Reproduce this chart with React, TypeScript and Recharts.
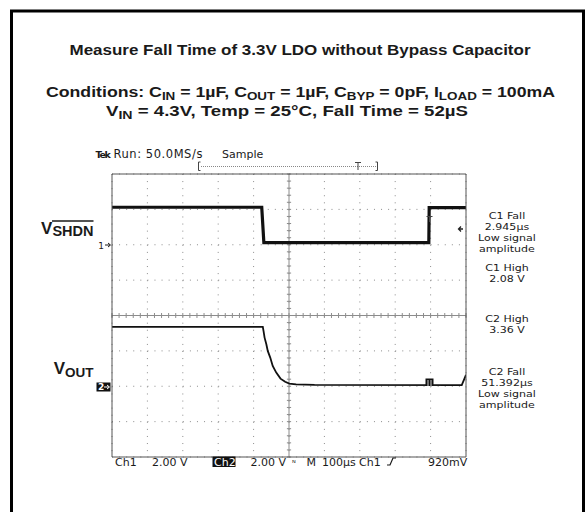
import React from 'react'
import { LineChart, Line, XAxis, YAxis, CartesianGrid, ReferenceLine } from 'recharts'

// scope capture: Ch1 = V_SHDN, Ch2 = V_OUT, both 2.00 V/div, M 100 µs/div
const ch1Time = [0, 423, 429, 895, 896, 1000]
const ch1Volts = [2.12, 2.12, 0.12, 0.12, 2.1, 2.1]

const ch2Time = [0, 426, 428, 431, 436, 440, 447, 454, 464, 476, 489, 501, 520, 572, 988, 1000]
const ch2Volts = [3.36, 3.36, 3.13, 2.75, 2.37, 2.0, 1.62, 1.15, 0.77, 0.43, 0.25, 0.15, 0.11, 0.08, 0.06, 0.65]

const timeTicks = [0, 100, 200, 300, 400, 500, 600, 700, 800, 900, 1000]
const divTicks = [0, 1, 2, 3, 4, 5, 6, 7, 8]
const minorTimeTicks = Array.from({ length: 51 }, (_, i) => i * 20)
const minorDivTicks = Array.from({ length: 41 }, (_, i) => Math.round(i * 2) / 10)

const ch1Data = ch1Time.map((t, i) => ({ t, v: ch1Volts[i] }))
const ch2Data = ch2Time.map((t, i) => ({ t, v: ch2Volts[i] }))

// measurement readouts on the right, one block per measurement
const readouts = [
  { y: 219, lines: ['C1 Fall', '2.945µs', 'Low signal', 'amplitude'] },
  { y: 271, lines: ['C1 High', '2.08 V'] },
  { y: 322, lines: ['C2 High', '3.36 V'] },
  { y: 375, lines: ['C2 Fall', '51.392µs', 'Low signal', 'amplitude'] },
]

const GRID = '#8c8c8c'
const FRAME = '#555'
const INK = '#1a1a1a'
const SCOPE_FONT = "'DejaVu Sans', sans-serif"
const HEAD_FONT = "'Liberation Sans', Arial, Helvetica, sans-serif"

function Sub({ children, size = 11, drop = 3 }: { children: string; size?: number; drop?: number }) {
  return (
    <>
      <tspan dy={drop} fontSize={size}>{children}</tspan>
      <tspan dy={-drop}>{' '}</tspan>
    </>
  )
}

export default function App() {
  return (
    <div style={{ position: 'absolute', left: 0, top: 0, width: 587, height: 512, background: '#fff', overflow: 'hidden' }}>
      <div style={{ position: 'absolute', left: 0, top: 0 }}>
        <LineChart width={587} height={512} margin={{ top: 174, right: 121, bottom: 55, left: 112 }}>
          <XAxis dataKey="t" type="number" domain={[0, 1000]} ticks={timeTicks} allowDataOverflow hide />
          <YAxis type="number" domain={[0, 8]} ticks={divTicks} allowDataOverflow hide />
          <YAxis yAxisId="c1" type="number" domain={[-12, 4]} allowDataOverflow hide />
          <YAxis yAxisId="c2" type="number" domain={[-4, 12]} allowDataOverflow hide />
          <XAxis xAxisId="bot" dataKey="t" orientation="bottom" mirror type="number" domain={[0, 1000]} ticks={minorTimeTicks}
            tick={false} tickSize={3} axisLine={{ stroke: FRAME }} tickLine={{ stroke: FRAME }} allowDataOverflow />
          <XAxis xAxisId="top" dataKey="t" orientation="top" mirror type="number" domain={[0, 1000]} ticks={minorTimeTicks}
            tick={false} tickSize={3} axisLine={{ stroke: FRAME }} tickLine={{ stroke: FRAME }} allowDataOverflow />
          <YAxis yAxisId="l" orientation="left" mirror type="number" domain={[0, 8]} ticks={minorDivTicks}
            tick={false} tickSize={3} axisLine={{ stroke: FRAME }} tickLine={{ stroke: FRAME }} allowDataOverflow />
          <YAxis yAxisId="r" orientation="right" mirror type="number" domain={[0, 8]} ticks={minorDivTicks}
            tick={false} tickSize={3} axisLine={{ stroke: FRAME }} tickLine={{ stroke: FRAME }} allowDataOverflow />
          <CartesianGrid stroke={GRID} strokeDasharray="1 6.08" />
          <ReferenceLine x={500} stroke={GRID} />
          <ReferenceLine y={4} stroke={GRID} />
          {minorTimeTicks.map((t) => (
            <ReferenceLine key={'h' + t} segment={[{ x: t, y: 3.93 }, { x: t, y: 4.07 }]} stroke={GRID} />
          ))}
          {minorDivTicks.map((d) => (
            <ReferenceLine key={'v' + d} segment={[{ x: 494, y: d }, { x: 506, y: d }]} stroke={GRID} />
          ))}
          <Line data={ch1Data} yAxisId="c1" dataKey="v" type="linear" stroke="#111" strokeWidth={3.2}
            dot={false} activeDot={false} isAnimationActive={false} />
          <Line data={ch2Data} yAxisId="c2" dataKey="v" type="linear" stroke="#111" strokeWidth={1.8}
            dot={false} activeDot={false} isAnimationActive={false} />
        </LineChart>
      </div>

      <svg width={587} height={512} style={{ position: 'absolute', left: 0, top: 0, pointerEvents: 'none' }}>
        <rect x={11.5} y={11} width={572} height={600} fill="none" stroke="#000" strokeWidth={3} />

        <g fontFamily={HEAD_FONT} fontWeight="bold" fill={INK}>
          <text x={300} y={55} textAnchor="middle" fontSize={14.5} textLength={461} lengthAdjust="spacingAndGlyphs">
            Measure Fall Time of 3.3V LDO without Bypass Capacitor
          </text>
          <text x={300.5} y={96.5} textAnchor="middle" fontSize={14.5} textLength={509} lengthAdjust="spacingAndGlyphs">
            Conditions: C<Sub>IN</Sub>= 1µF, C<Sub>OUT</Sub>= 1µF, C<Sub>BYP</Sub>= 0pF, I<Sub>LOAD</Sub>= 100mA
          </text>
          <text x={287} y={115.5} textAnchor="middle" fontSize={14.5} textLength={362} lengthAdjust="spacingAndGlyphs">
            V<Sub>IN</Sub>= 4.3V, Temp = 25°C, Fall Time = 52µS
          </text>

          <text x={93.5} y={233.5} textAnchor="end" fontSize={17}>
            V<tspan dy={2.5} fontSize={14.5}>SHDN</tspan>
          </text>
          <line x1={52} x2={93.5} y1={221} y2={221} stroke={INK} strokeWidth={1.3} />
          <text x={93.5} y={373.5} textAnchor="end" fontSize={17}>
            V<tspan dy={3.5} fontSize={13.5}>OUT</tspan>
          </text>
        </g>

        <g fontFamily={SCOPE_FONT} fontSize={11} fill={INK}>
          <text y={157.5}>
            <tspan x={95.5} fontWeight="bold" fontSize={9.5} letterSpacing={-1.3}>Tek</tspan>
            <tspan x={113.5} fontSize={11.5} letterSpacing={0.55}>Run: 50.0MS/s</tspan>
          </text>
          <text x={222} y={157.5}>Sample</text>

          <g transform="translate(507 0) scale(1.2 1) translate(-507 0)" fontSize={9.2}>
            {readouts.map((r, i) => (
              <text key={i} x={507} y={r.y} textAnchor="middle">
                {r.lines.map((s, j) => (
                  <tspan key={j} x={507} dy={j === 0 ? 0 : 10.85}>{s}</tspan>
                ))}
              </text>
            ))}
          </g>

          <text x={115} y={465.5}>Ch1</text>
          <text x={152} y={465.5}>2.00 V</text>
          <rect x={212.5} y={456.5} width={23} height={10.5} fill="#111" />
          <text x={214} y={465.5} fill="#fff">Ch2</text>
          <text x={250.5} y={465.5}>2.00 V</text>
          <text x={292} y={465.5} fontSize={8}>ᴺ</text>
          <text x={306.5} y={465.5}>M</text>
          <text x={322} y={465.5}>100µs</text>
          <text x={359} y={465.5}>Ch1</text>
          <path d="M387 465 L390 465 L393 458 L396 458" fill="none" stroke={INK} strokeWidth={1.2} />
          <text x={428} y={465.5}>920mV</text>

          <text x={104} y={248.5} textAnchor="end" fontSize={9}>1</text>
          <path d="M105 245 L110 245 M108 243 L110.5 245 L108 247" fill="none" stroke={INK} strokeWidth={1} />
          <rect x={96.5} y={382.5} width={14} height={9} fill="#111" />
          <text x={98} y={390} fill="#fff" fontSize={9} fontWeight="bold">2</text>
          <path d="M104 387 L109 387 M107 385 L109.5 387 L107 389" fill="none" stroke="#fff" strokeWidth={1} />
        </g>

        <g stroke="#444" fill="none" strokeWidth={1}>
          <path d="M200.5 162 L198.5 162 L198.5 170.5 L200.5 170.5" />
          <line x1={201} x2={376} y1={166.5} y2={166.5} strokeDasharray="1 1" stroke="#888" />
          <path d="M355 162.5 L361 162.5 M358 162.5 L358 170" />
          <path d="M375.5 162 L377.5 162 L377.5 170.5 L375.5 170.5" />
          <path d="M426.5 216.5 L432.5 216.5 M429.5 216.5 L429.5 222" />
          <path d="M463 229 L458.5 229 M461 226.5 L458.5 229 L461 231.5" strokeWidth={1.3} stroke="#222" />
        </g>
        <rect x={425.5} y={378.5} width={8} height={7.5} fill="#111" />
        <line x1={428} x2={428} y1={380} y2={386} stroke="#fff" strokeWidth={0.8} />
        <line x1={431} x2={431} y1={380} y2={386} stroke="#fff" strokeWidth={0.8} />
      </svg>
    </div>
  )
}
